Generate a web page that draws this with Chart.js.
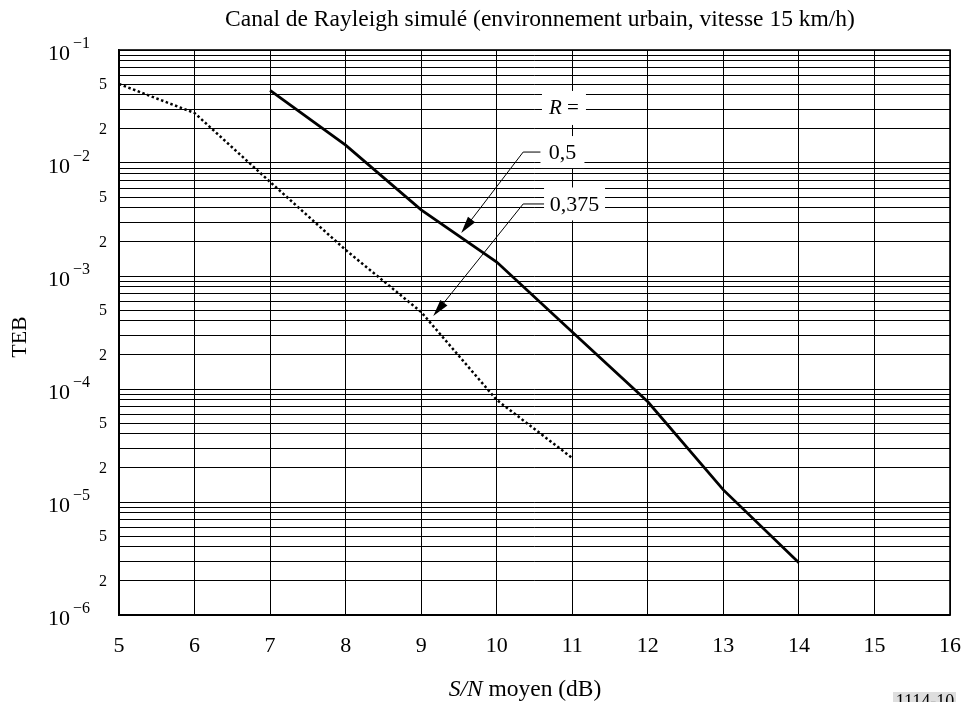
<!DOCTYPE html>
<html>
<head>
<meta charset="utf-8">
<title>Canal de Rayleigh simulé</title>
<script src="https://cdn.jsdelivr.net/npm/chart.js@4.4.1/dist/chart.umd.min.js"></script>
<style>
  html, body { margin: 0; padding: 0; background: #fff; }
  canvas { display: block; }
</style>
</head>
<body>
<canvas id="teb" width="963" height="702"></canvas>
<script>
// Courbes TEB en fonction du S/N moyen, pour deux rendements de code R
const snrR05 = [7, 8, 9, 10, 11, 12, 13, 14];
const tebR05 = [4.4e-2, 1.44e-2, 3.85e-3, 1.33e-3, 3.2e-4, 7.7e-5, 1.28e-5, 2.9e-6];

const snrR0375 = [5, 6, 7, 8, 9, 10, 11];
const tebR0375 = [5.0e-2, 2.77e-2, 6.8e-3, 1.7e-3, 4.8e-4, 8.0e-5, 2.45e-5];

const xTickValues = [5, 6, 7, 8, 9, 10, 11, 12, 13, 14, 15, 16];
const yDecades = [-6, -5, -4, -3, -2, -1];
const yMinorLabels = [2, 5];

const rateLabels = ['0,5', '0,375'];

const titleText = 'Canal de Rayleigh simulé (environnement urbain, vitesse 15 km/h)';
const yTitle = 'TEB';
const xTitleItalic = 'S/N';
const xTitleRest = ' moyen (dB)';
const figRef = '1114-10';

const SERIF = '"Liberation Serif", "Times New Roman", serif';

// all grid values 1..9 x 10^k between 1e-6 and 1e-1
const yGridValues = [];
yDecades.forEach(e => {
  if (e === -1) { yGridValues.push(Math.pow(10, e)); return; }
  for (let m = 1; m <= 9; m++) yGridValues.push(m * Math.pow(10, e));
});

const toPoints = (xs, ys) => xs.map((x, i) => ({ x: x, y: ys[i] }));

// label boxes and leader arrows, placed in data units
const rateNotes = {
  title:  { x: 10.89, y: 3.07e-2, w: 44, h: 34 },
  items: [
    { x: 10.87, y: 1.25e-2, w: 44, h: 32, elbowX: 10.35, tipX: 9.53, tipY: 2.4e-3 },
    { x: 11.03, y: 4.34e-3, w: 61, h: 33, elbowX: 10.35, tipX: 9.16, tipY: 4.43e-4 }
  ]
};

function drawArrow(ctx, x0, y0, x1, y1) {
  const ang = Math.atan2(y1 - y0, x1 - x0);
  const len = 17, half = 4.5;
  ctx.beginPath();
  ctx.moveTo(x0, y0);
  ctx.lineTo(x1 - Math.cos(ang) * len * 0.8, y1 - Math.sin(ang) * len * 0.8);
  ctx.stroke();
  ctx.beginPath();
  ctx.moveTo(x1, y1);
  ctx.lineTo(x1 - Math.cos(ang) * len + Math.sin(ang) * half, y1 - Math.sin(ang) * len - Math.cos(ang) * half);
  ctx.lineTo(x1 - Math.cos(ang) * len - Math.sin(ang) * half, y1 - Math.sin(ang) * len + Math.cos(ang) * half);
  ctx.closePath();
  ctx.fill();
}

const textPlugin = {
  id: 'serifText',
  beforeDatasetsDraw(chart) {
    const { ctx, chartArea: a } = chart;
    ctx.save();
    ctx.strokeStyle = '#000';
    ctx.lineWidth = 1.6;
    ctx.strokeRect(a.left, a.top, a.right - a.left, a.bottom - a.top);
    ctx.restore();
  },
  afterDraw(chart) {
    const { ctx } = chart;
    const xs = chart.scales.x, ys = chart.scales.y;
    ctx.save();
    ctx.fillStyle = '#000';
    ctx.strokeStyle = '#000';

    // title
    ctx.font = '23.5px ' + SERIF;
    ctx.textAlign = 'center';
    ctx.textBaseline = 'middle';
    ctx.fillText(titleText, 540, 20);

    // y ticks: 10^k and minor 2, 5
    yDecades.forEach(e => {
      const py = ys.getPixelForValue(Math.pow(10, e));
      ctx.font = '22px ' + SERIF;
      ctx.textAlign = 'right';
      ctx.textBaseline = 'middle';
      ctx.fillText('10', 70, py + 4);
      ctx.font = '16px ' + SERIF;
      ctx.textAlign = 'left';
      ctx.fillText('\u2212' + Math.abs(e), 73, py - 6);
      if (e < -1) {
        yMinorLabels.forEach(m => {
          const pm = ys.getPixelForValue(m * Math.pow(10, e));
          ctx.font = '16px ' + SERIF;
          ctx.textAlign = 'right';
          ctx.fillText(String(m), 107, pm + 1);
        });
      }
    });

    // x ticks
    ctx.font = '22px ' + SERIF;
    ctx.textAlign = 'center';
    ctx.textBaseline = 'middle';
    xTickValues.forEach(v => {
      ctx.fillText(String(v), xs.getPixelForValue(v), 646);
    });

    // axis titles
    ctx.font = 'italic 23.5px ' + SERIF;
    const wI = ctx.measureText(xTitleItalic).width;
    ctx.font = '23.5px ' + SERIF;
    const wR = ctx.measureText(xTitleRest).width;
    const x0 = 525 - (wI + wR) / 2;
    ctx.textAlign = 'left';
    ctx.font = 'italic 23.5px ' + SERIF;
    ctx.fillText(xTitleItalic, x0, 690);
    ctx.font = '23.5px ' + SERIF;
    ctx.fillText(xTitleRest, x0 + wI, 690);

    ctx.save();
    ctx.translate(20, 337);
    ctx.rotate(-Math.PI / 2);
    ctx.textAlign = 'center';
    ctx.font = '22px ' + SERIF;
    ctx.fillText(yTitle, 0, 0);
    ctx.restore();

    // rate labels with white boxes
    const t = rateNotes.title;
    const cx = xs.getPixelForValue(t.x), cy = ys.getPixelForValue(t.y);
    ctx.fillStyle = '#fff';
    ctx.fillRect(cx - t.w / 2, cy - t.h / 2, t.w, t.h);
    ctx.fillStyle = '#000';
    ctx.textAlign = 'left';
    ctx.font = 'italic 21px ' + SERIF;
    const wR2 = ctx.measureText('R').width;
    ctx.font = '21px ' + SERIF;
    const wEq = ctx.measureText(' =').width;
    const sx = cx - (wR2 + wEq) / 2;
    ctx.font = 'italic 21px ' + SERIF;
    ctx.fillText('R', sx, cy + 1);
    ctx.font = '21px ' + SERIF;
    ctx.fillText(' =', sx + wR2, cy + 1);

    rateNotes.items.forEach((n, i) => {
      const px = xs.getPixelForValue(n.x), py = ys.getPixelForValue(n.y);
      const left = px - n.w / 2;
      ctx.fillStyle = '#fff';
      ctx.fillRect(left, py - n.h / 2, n.w, n.h);
      ctx.fillStyle = '#000';
      ctx.font = '22px ' + SERIF;
      ctx.textAlign = 'center';
      ctx.fillText(rateLabels[i], px, py + 1);
      const ex = xs.getPixelForValue(n.elbowX);
      const tx = xs.getPixelForValue(n.tipX), ty = ys.getPixelForValue(n.tipY);
      ctx.lineWidth = 1;
      ctx.beginPath();
      ctx.moveTo(left, py);
      ctx.lineTo(ex, py);
      ctx.stroke();
      drawArrow(ctx, ex, py, tx, ty);
    });

    // figure reference
    ctx.fillStyle = '#dedede';
    ctx.fillRect(893, 692, 63, 10);
    ctx.fillStyle = '#000';
    ctx.font = '18px ' + SERIF;
    ctx.textAlign = 'center';
    ctx.textBaseline = 'alphabetic';
    ctx.fillText(figRef, 925, 707);
    ctx.restore();
  }
};

new Chart(document.getElementById('teb'), {
  type: 'line',
  data: {
    datasets: [
      {
        label: 'R = 0,5',
        data: toPoints(snrR05, tebR05),
        borderColor: '#000',
        borderWidth: 2.8,
        pointRadius: 0,
        tension: 0,
        fill: false
      },
      {
        label: 'R = 0,375',
        data: toPoints(snrR0375, tebR0375),
        borderColor: '#000',
        borderWidth: 2.5,
        borderDash: [2.5, 2.5],
        pointRadius: 0,
        tension: 0,
        fill: false
      }
    ]
  },
  options: {
    responsive: false,
    devicePixelRatio: 1,
    animation: false,
    layout: { padding: { left: 119, right: 13, top: 50, bottom: 87 } },
    plugins: {
      legend: { display: false },
      title: { display: false },
      tooltip: { enabled: false }
    },
    scales: {
      x: {
        type: 'linear',
        min: 5,
        max: 16,
        ticks: { display: false, stepSize: 1 },
        grid: { color: '#000', lineWidth: 1, drawTicks: false },
        border: { display: true, color: '#000', width: 1.6 },
        afterFit: s => { s.height = 0; }
      },
      y: {
        type: 'logarithmic',
        min: 1e-6,
        max: 1e-1,
        ticks: { display: false },
        afterBuildTicks: s => { s.ticks = yGridValues.map(v => ({ value: v })); },
        grid: { color: '#000', lineWidth: 1, drawTicks: false },
        border: { display: true, color: '#000', width: 1.6 },
        afterFit: s => { s.width = 0; }
      }
    }
  },
  plugins: [textPlugin]
});
</script>
</body>
</html>
